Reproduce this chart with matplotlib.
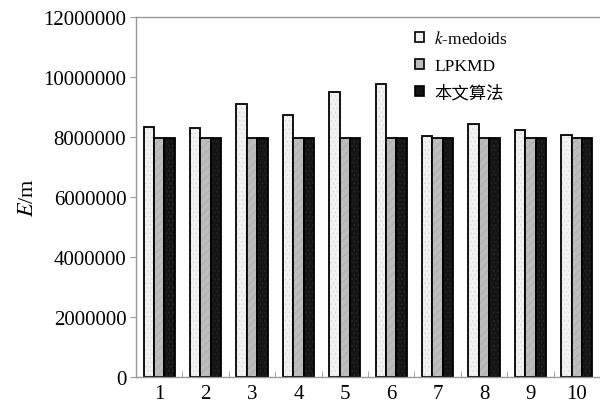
import numpy as np
from matplotlib import pyplot as plt
from matplotlib.patches import Patch

plt.rcParams['font.family'] = ['Liberation Serif', 'Noto Sans CJK SC']
plt.rcParams['mathtext.fontset'] = 'stix'
plt.rcParams['hatch.linewidth'] = 0.5

categories = ['1', '2', '3', '4', '5', '6', '7', '8', '9', '10']
kmedoids = [8340000, 8310000, 9100000, 8740000, 9490000, 9760000, 8040000, 8440000, 8220000, 8060000]
lpkmd = [7960000, 7960000, 7960000, 7960000, 7960000, 7960000, 7960000, 7960000, 7960000, 7960000]
ours = [7960000, 7960000, 7960000, 7960000, 7960000, 7960000, 7960000, 7960000, 7960000, 7960000]
labels = [r'$k$-medoids', 'LPKMD', '本文算法']
yticks = [0, 2000000, 4000000, 6000000, 8000000, 10000000, 12000000]


def main():
    fig = plt.figure(figsize=(6.0, 4.06), dpi=100)
    ax = fig.add_axes([136 / 600, 1 - 378 / 406, 464 / 600, 360 / 406])

    x = np.arange(len(categories))
    w = 0.225
    # face colour, hatch colour, hatch pattern
    styles = [('#f2f2f2', '#d8d8d8', '....'),
              ('#bdbdbd', '#a8a8a8', '////'),
              ('#141414', '#2e2e2e', '....')]
    for i, vals in enumerate([kmedoids, lpkmd, ours]):
        fc, hc, hatch = styles[i]
        ax.bar(x + (i - 1) * w, vals, width=w, color=fc, edgecolor=hc,
               linewidth=0, hatch=hatch)
        ax.bar(x + (i - 1) * w, vals, width=w, fill=False, edgecolor='black',
               linewidth=1.3)

    ax.set_xlim(-0.5, len(categories) - 0.5)
    ax.set_ylim(0, 12000000)
    ax.set_yticks(yticks)
    ax.set_yticklabels([str(v) for v in yticks])
    ax.set_xticks(x)
    ax.set_xticklabels(categories)
    ax.set_xticks(np.arange(0.5, len(categories) - 0.5, 1), minor=True)
    ax.tick_params(axis='x', which='major', length=0, pad=5, labelsize=15)
    ax.tick_params(axis='x', which='minor', length=4, direction='in', color='#999999')
    ax.tick_params(axis='y', length=4, direction='out', color='#999999', labelsize=15, pad=3)

    for s in ['left', 'top', 'bottom']:
        ax.spines[s].set_color('#999999')
        ax.spines[s].set_linewidth(1.0)
    ax.spines['right'].set_visible(False)

    ax.set_ylabel(r'$E$/m', fontsize=16, labelpad=4)

    handles = [Patch(facecolor=styles[i][0], edgecolor='black', linewidth=1.2)
               for i in range(3)]
    fig.legend(handles, labels, loc='upper left', bbox_to_anchor=(403 / 600, 1 - 19 / 406),
               frameon=False, fontsize=12.5, handlelength=0.5, handleheight=0.5,
               handletextpad=0.6, labelspacing=0.62, borderpad=0.2)

    fig.savefig('out.png', dpi=100)


if __name__ == '__main__':
    main()
